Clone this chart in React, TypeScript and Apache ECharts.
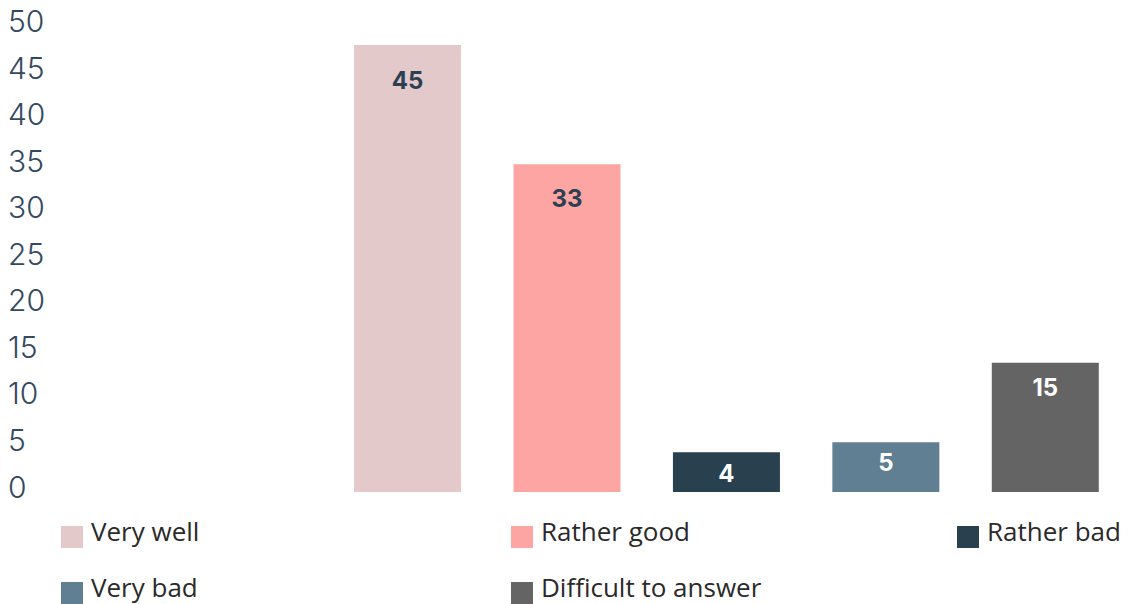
import React, { useEffect, useRef } from "react";
import * as echarts from "echarts";

const categories = ["Very well", "Rather good", "Rather bad", "Very bad", "Difficult to answer"];
// values printed on the bars
const labelValues = [45, 33, 4, 5, 15];
// bar heights as drawn in the picture (the last bar is drawn shorter than its label)
const barValues = [45, 33, 4, 5, 13];
const colors = ["#e4c9ca", "#fca5a2", "#29404f", "#607f93", "#646464"];
const labelColors = ["#2b4052", "#2b4052", "#ffffff", "#ffffff", "#ffffff"];
const labelDistances = [23, 22, 9, 8, 13];
const yTicks = { min: 0, max: 50, interval: 5 };
// two empty slots before the bars
const slots = ["", "", ...categories];

const legendPos = [
  { left: 61, top: 518 },
  { left: 511, top: 518 },
  { left: 957, top: 518 },
  { left: 61, top: 574 },
  { left: 511, top: 574 },
];

export default function App() {
  const ref = useRef<HTMLDivElement>(null);
  useEffect(() => {
    if (!ref.current) return;
    const chart = echarts.init(ref.current, null, { renderer: "svg" });
    const series = categories.map((name, i) => ({
      name,
      type: "bar",
      stack: "all",
      xAxisIndex: 0,
      yAxisIndex: 0,
      barWidth: 107,
      itemStyle: { color: colors[i] },
      data: slots.map((_, j) =>
        j === i + 2
          ? {
              value: barValues[i],
              label: {
                show: true,
                position: "insideTop",
                distance: labelDistances[i],
                formatter: String(labelValues[i]),
                color: labelColors[i],
                fontSize: 24,
                fontWeight: 700,
                fontFamily: "Inter, 'Open Sans', sans-serif",
              },
            }
          : "-"
      ),
    }));
    chart.setOption({
      animation: false,
      grid: [
        { left: 9, right: 3, top: 45, bottom: 112 },
        { left: 8, width: 40, top: 21, bottom: 117.5 },
      ],
      xAxis: [
        { type: "category", gridIndex: 0, data: slots, show: false },
        { type: "value", gridIndex: 1, show: false },
      ],
      yAxis: [
        { type: "value", gridIndex: 0, min: 0, max: 45, show: false },
        {
          type: "value",
          gridIndex: 1,
          min: yTicks.min,
          max: yTicks.max,
          interval: yTicks.interval,
          axisLine: { show: false },
          axisTick: { show: false },
          splitLine: { show: false },
          axisLabel: {
            align: "left",
            margin: 0,
            color: "#34495e",
            fontSize: 30,
            fontWeight: 300,
            fontFamily: "Inter, Lato, sans-serif",
          },
        },
      ],
      legend: categories.map((name, i) => ({
        data: [name],
        left: legendPos[i].left,
        top: legendPos[i].top,
        padding: 0,
        itemWidth: 22,
        itemHeight: 22,
        icon: "rect",
        selectedMode: false,
        formatter: "{t|{name}}",
        textStyle: {
          rich: {
            t: {
              fontSize: 26,
              lineHeight: 20,
              fontFamily: "'Open Sans', sans-serif",
              color: "#2a2a2a",
              padding: [0, 0, 12, 3],
            },
          },
        },
      })),
      series,
    });
    return () => chart.dispose();
  }, []);
  return (
    <div
      ref={ref}
      style={{ position: "absolute", left: 0, top: 0, width: 1128, height: 604 }}
    />
  );
}
